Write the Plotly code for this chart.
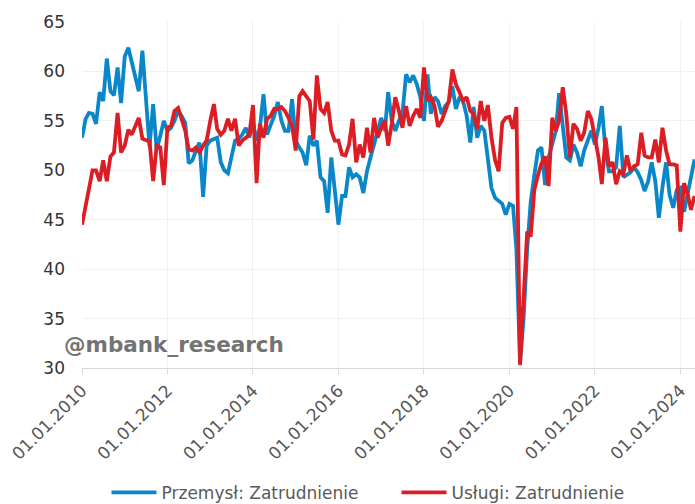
import pandas as pd
import plotly.graph_objects as go

# Monthly dates, Jan 2010 .. May 2024
dates = pd.date_range("2010-01-01", periods=173, freq="MS")

przemysl = [
    53.3, 55.2, 55.8, 55.7, 54.7, 57.9, 57.0, 61.3, 58.0, 57.6, 60.4, 56.8,   # 2010
    61.5, 62.4, 61.0, 59.5, 58.0, 62.1, 57.5, 52.4, 56.7, 52.1, 53.5, 55.0,   # 2011
    54.0, 54.3, 55.0, 56.0, 55.5, 54.8, 50.7, 51.0, 52.0, 52.8, 47.3, 52.5,   # 2012
    53.0, 53.2, 53.3, 50.8, 50.0, 49.7, 51.5, 53.0, 53.2, 53.6, 54.3, 53.3,   # 2013
    54.8, 53.0, 54.3, 57.7, 53.6, 54.5, 55.5, 56.9, 55.0, 54.0, 54.0, 57.2,   # 2014
    53.0, 52.3, 51.8, 50.5, 53.5, 52.5, 53.0, 49.3, 48.9, 45.7, 51.3, 48.0,   # 2015
    44.5, 47.4, 47.4, 50.3, 49.3, 49.6, 49.3, 47.7, 49.9, 51.3, 52.6, 54.0,   # 2016
    55.3, 54.0, 57.9, 55.0, 54.0, 55.0, 55.7, 59.7, 58.9, 59.6, 58.7, 57.4,   # 2017
    55.0, 59.7, 55.7, 57.4, 57.0, 55.7, 56.5, 56.9, 58.5, 56.2, 57.4, 57.0,   # 2018
    55.5, 52.8, 56.4, 53.3, 54.5, 54.0, 51.3, 48.2, 47.2, 46.9, 46.6, 45.5,   # 2019
    46.6, 46.4, 42.0, 30.5, 35.0, 42.0, 46.8, 49.5, 52.0, 52.3, 48.5, 51.3,   # 2020
    52.5, 54.0, 57.8, 54.5, 51.3, 51.0, 52.6, 51.8, 50.4, 52.0, 53.0, 54.0,   # 2021
    52.6, 54.3, 56.5, 52.0, 49.9, 49.9, 50.3, 54.5, 49.3, 49.6, 49.8, 50.3,   # 2022
    49.8, 49.0, 47.9, 48.9, 50.8, 48.9, 45.2, 48.3, 50.8, 47.5, 46.2, 48.0,   # 2023
    48.2, 45.8, 47.5, 49.3, 51.1,                                             # 2024
]

uslugi = [
    44.5, 46.5, 48.3, 50.0, 50.0, 48.9, 51.0, 48.9, 51.4, 51.8, 55.8, 51.8,   # 2010
    52.5, 54.1, 53.6, 54.4, 55.3, 53.2, 53.0, 52.9, 48.9, 52.5, 52.3, 48.5,   # 2011
    54.3, 54.5, 56.0, 56.3, 55.2, 54.0, 52.1, 52.0, 52.3, 51.8, 52.5, 53.0,   # 2012
    55.0, 56.7, 54.2, 53.6, 54.0, 55.2, 54.0, 55.2, 52.5, 53.0, 53.3, 53.6,   # 2013
    56.6, 48.7, 54.7, 53.3, 55.2, 55.5, 56.2, 56.2, 56.4, 56.0, 55.3, 54.5,   # 2014
    52.0, 57.5, 58.0, 57.5, 57.0, 53.1, 59.6, 56.2, 55.8, 56.9, 54.0, 53.0,   # 2015
    53.0, 51.6, 51.5, 52.6, 55.2, 50.8, 52.6, 51.3, 54.3, 51.8, 55.3, 53.3,   # 2016
    54.3, 55.0, 52.5, 54.7, 57.4, 56.0, 54.3, 56.5, 54.5, 55.5, 56.2, 55.3,   # 2017
    60.4, 57.0, 57.4, 56.5, 54.4, 55.0, 56.0, 57.0, 60.2, 58.7, 57.9, 57.0,   # 2018
    57.4, 56.0, 55.7, 54.2, 57.0, 55.0, 56.6, 53.3, 51.0, 49.9, 54.8, 55.3,   # 2019
    55.4, 54.2, 56.4, 30.3, 37.0, 43.8, 43.3, 48.0, 49.5, 50.7, 51.4, 48.4,   # 2020
    55.3, 54.0, 55.0, 58.4, 55.7, 51.3, 54.7, 54.2, 53.0, 53.8, 56.0, 55.2,   # 2021
    53.3, 51.3, 48.6, 53.3, 50.4, 50.8, 48.6, 49.9, 49.6, 51.5, 49.9, 50.4,   # 2022
    50.6, 53.8, 51.5, 51.3, 51.3, 53.1, 50.8, 54.3, 52.0, 50.6, 50.6, 50.5,   # 2023
    43.8, 48.7, 47.7, 46.0, 47.4,                                             # 2024
]

series_names = ["Przemysł: Zatrudnienie", "Usługi: Zatrudnienie"]
series_colors = ["#0a87c9", "#dd1d24"]

fig = go.Figure()
for name, vals, col in zip(series_names, [przemysl, uslugi], series_colors):
    fig.add_trace(go.Scatter(
        x=dates, y=vals, name=name, mode="lines",
        line=dict(color=col, width=3.8),
    ))

fig.add_annotation(
    text="@mbank_research", xref="paper", yref="y", x=-0.033, y=32.4,
    xanchor="left", yanchor="middle", showarrow=False,
    font=dict(family="DejaVu Sans", size=21.5, color="#737373", weight="bold"),
)

fig.update_layout(
    width=695, height=504,
    margin=dict(l=82, r=0, t=22, b=136, autoexpand=False),
    paper_bgcolor="white", plot_bgcolor="white",
    font=dict(family="DejaVu Sans", color="#404040"),
    showlegend=True,
    legend=dict(
        orientation="h", x=0.04, xanchor="left", y=-0.361, yanchor="middle",
        font=dict(family="DejaVu Sans", size=17, color="#595959"),
        itemwidth=45, tracegroupgap=0, entrywidth=230,
    ),
)

fig.update_xaxes(
    type="date", automargin=False,
    range=["2010-01-01", "2024-05-05"],
    tick0="2010-01-01", dtick="M24", tickformat="%d.%m.%Y",
    tickangle=-45, ticklabeloverflow="allow",
    tickfont=dict(family="DejaVu Sans", size=17, color="#555555"),
    showgrid=True, gridcolor="#f0f0f0", gridwidth=1,
    showline=True, linecolor="#d9d9d9", linewidth=1,
    ticks="outside", ticklen=5, tickcolor="#d9d9d9",
    zeroline=False,
)
fig.update_yaxes(
    range=[30, 65], dtick=5, tick0=30, automargin=False,
    tickfont=dict(family="DejaVu Sans", size=17, color="#333333"),
    showgrid=True, gridcolor="#f0f0f0", gridwidth=1,
    zeroline=False, showline=False,
    ticks="", ticklabelstandoff=16,
)

# remove the browser's default 8px body margin so the figure sits at the page corner
fig.write_html(
    "out.html",
    config={"displayModeBar": False},
    post_script="document.body.style.margin='0';",
)
